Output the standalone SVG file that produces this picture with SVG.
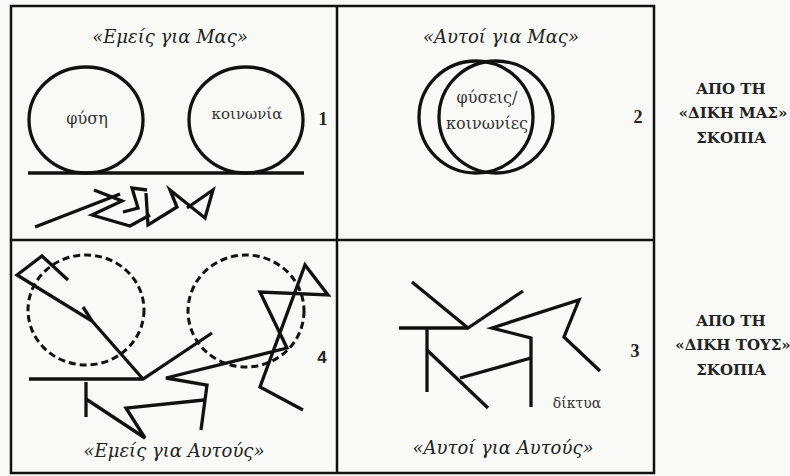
<svg xmlns="http://www.w3.org/2000/svg" width="790" height="476" viewBox="0 0 790 476">
<style>
.ln{fill:none;stroke:#111;stroke-width:3.3;stroke-linejoin:miter;stroke-linecap:butt}
.frame{fill:none;stroke:#111;stroke-width:2.5}
.dash{fill:none;stroke:#111;stroke-width:3;stroke-dasharray:7 4}
.title{font-family:"DejaVu Serif","Liberation Serif",serif;font-style:italic;font-size:18px;fill:#222;text-anchor:middle}
.lbl{font-family:"DejaVu Serif","Liberation Serif",serif;font-size:16px;fill:#333;text-anchor:middle}
.num{font-family:"Liberation Serif",serif;font-weight:bold;font-size:18px;fill:#222;text-anchor:middle}
.numS{font-family:"Liberation Sans",sans-serif;font-weight:bold;font-size:17px;fill:#222;text-anchor:middle}
.side{font-family:"DejaVu Serif","Liberation Serif",serif;font-weight:bold;font-size:15px;fill:#222;text-anchor:middle}
</style>
<rect width="790" height="476" fill="#f9f9f7"/>
<g id="frame">
<rect class="frame" x="11" y="6" width="643" height="467"/>
<line class="frame" x1="337" y1="6" x2="337" y2="473"/>
<line class="frame" x1="11" y1="240" x2="654" y2="240"/>
</g>
<g id="panel1">
<text class="title" x="170" y="43">«Εμείς για Μας»</text>
<g id="node-fysi"><ellipse class="ln" cx="86" cy="120" rx="57" ry="53"/><text class="lbl" x="87" y="124">φύση</text></g>
<g id="node-koinonia"><ellipse class="ln" cx="246" cy="120" rx="57" ry="53"/><text class="lbl" x="247" y="119" style="font-size:15px">κοινωνία</text></g>
<text class="num" x="323" y="125">1</text>
<line class="ln" x1="28" y1="173" x2="304" y2="173"/>
<g id="scribble1">
<polyline class="ln" points="35,227 120,194"/>
<polyline class="ln" points="94,190 122,201 92,215 130,226 150,215"/>
<polyline class="ln" points="147,190 132,188 138,208 123,212"/>
<polyline class="ln" points="146,193 148,225 177,207 170,190 205,218 213,190 187,208"/>
</g>
</g>
<g id="panel2">
<text class="title" x="501" y="43">«Αυτοί για Μας»</text>
<g id="node-fyseis">
<ellipse class="ln" cx="476" cy="117" rx="57" ry="56"/>
<ellipse class="ln" cx="496" cy="117" rx="57" ry="56"/>
<text class="lbl" x="487" y="103">φύσεις/</text>
<text class="lbl" x="487" y="129">κοινωνίες</text>
</g>
<text class="num" x="638" y="123">2</text>
</g>
<g id="panel4">
<ellipse class="dash" cx="86" cy="310" rx="58" ry="55"/>
<ellipse class="dash" cx="246" cy="311" rx="58" ry="56"/>
<polyline class="ln" points="68,280 42,256 17,275 92,321 143,379"/>
<polyline class="ln" points="83,307 92,321"/>
<polyline class="ln" points="29,379 143,379 212,333"/>
<polyline class="ln" points="86,382 86,417"/>
<polyline class="ln" points="86,399 145,438 126,408 204,400"/>
<polyline class="ln" points="303,410 260,387 305,265 328,295 260,292 287,348 166,378 207,385 201,430"/>
<text class="numS" x="322" y="363">4</text>
<text class="title" x="174" y="457">«Εμείς για Αυτούς»</text>
</g>
<g id="panel3">
<polyline class="ln" points="412,282 468,328 523,291"/>
<polyline class="ln" points="399,328 468,328"/>
<polyline class="ln" points="427,329 427,392"/>
<polyline class="ln" points="427,350 488,408"/>
<polyline class="ln" points="460,378 531,358"/>
<polyline class="ln" points="531,407 531,338 492,328 579,300 564,337 600,371"/>
<text class="lbl" x="577" y="408" style="font-size:14px">δίκτυα</text>
<text class="num" x="635" y="357">3</text>
<text class="title" x="503" y="454">«Αυτοί για Αυτούς»</text>
</g>
<g id="side-labels">
<text class="side" x="731" y="94">ΑΠΟ ΤΗ</text>
<text class="side" x="733" y="118">«ΔΙΚΗ ΜΑΣ»</text>
<text class="side" x="731" y="143">ΣΚΟΠΙΑ</text>
<text class="side" x="731" y="326">ΑΠΟ ΤΗ</text>
<text class="side" x="733" y="350">«ΔΙΚΗ ΤΟΥΣ»</text>
<text class="side" x="731" y="375">ΣΚΟΠΙΑ</text>
</g>
</svg>
